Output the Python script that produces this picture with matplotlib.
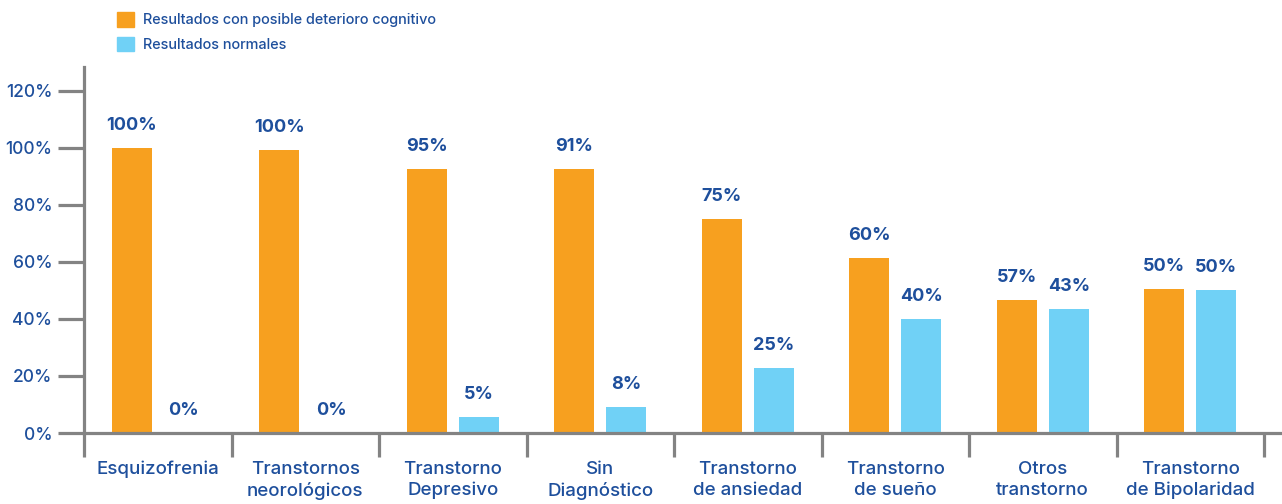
import matplotlib
matplotlib.use("Agg")
import matplotlib.pyplot as plt
from matplotlib.patches import Patch
import numpy as np

categories = ["Esquizofrenia", "Transtornos\nneorológicos", "Transtorno\nDepresivo",
              "Sin\nDiagnóstico", "Transtorno\nde ansiedad", "Transtorno\nde sueño",
              "Otros\ntranstorno", "Transtorno\nde Bipolaridad"]
deterioro = [100, 99.3, 92.6, 92.6, 75.1, 61.4, 46.7, 50.5]
normales = [0, 0, 5.6, 9.1, 22.8, 40.0, 43.5, 50.2]
deterioro_labels = ["100%", "100%", "95%", "91%", "75%", "60%", "57%", "50%"]
normales_labels = ["0%", "0%", "5%", "8%", "25%", "40%", "43%", "50%"]
yticks = [0, 20, 40, 60, 80, 100, 120]
ytick_labels = ["0%", "20%", "40%", "60%", "80%", "100%", "120%"]
series_names = ["Resultados con posible deterioro cognitivo", "Resultados normales"]

ORANGE = "#F7A01F"
BLUE = "#70D1F6"
TXT = "#1E4F9C"
GRAY = "#838383"

plt.rcParams['font.family'] = ['Inter', 'DejaVu Sans']

W, H = 1282, 504
fig = plt.figure(figsize=(W / 100, H / 100), dpi=100)
ax = fig.add_axes([84 / W, (H - 433) / H, (1280 - 84) / W, (433 - 67) / H])

x = np.arange(len(categories)) + 0.5
bw = 40 / 147.5
off = 26 / 147.5
b1 = ax.bar(x - off, deterioro, bw, color=ORANGE)
b2 = ax.bar(x + off, normales, bw, color=BLUE)

for bars, labs in ((b1, deterioro_labels), (b2, normales_labels)):
    for r, lab in zip(bars, labs):
        ax.annotate(lab, (r.get_x() + r.get_width() / 2, r.get_height()),
                    xytext=(0, 16), textcoords="offset points",
                    ha="center", va="center", fontsize=13, fontweight="bold", color=TXT)

ax.set_xlim(0, 1196 / 147.5)
ax.set_ylim(0, 128.4)

for s in ["top", "right"]:
    ax.spines[s].set_visible(False)
for s in ["left", "bottom"]:
    ax.spines[s].set_color(GRAY)
    ax.spines[s].set_linewidth(2.3)

ax.set_yticks(yticks)
ax.set_yticklabels(ytick_labels)
ax.tick_params(axis="y", length=18.7, width=2.3, color=GRAY, labelsize=12.5,
               labelcolor=TXT, pad=4)

ax.set_xticks(np.arange(len(categories) + 1))
ax.set_xticklabels([""] * (len(categories) + 1))
ax.tick_params(axis="x", which="major", length=17, width=2.3, color=GRAY)
ax.set_xticks(x, minor=True)
ax.set_xticklabels(categories, minor=True)
ax.tick_params(axis="x", which="minor", length=0, labelsize=13.5, labelcolor=TXT, pad=20)
for t in ax.get_xticklabels(minor=True):
    t.set_linespacing(1.3)
    t.set_fontweight("medium")
for t in ax.get_yticklabels():
    t.set_fontweight("medium")

handles = [Patch(color=ORANGE), Patch(color=BLUE)]
fig.legend(handles, series_names, loc="upper left",
           bbox_to_anchor=(117 / W, 1 - 12 / H), frameon=False,
           handlelength=1.2, handleheight=1.2, handletextpad=0.6,
           labelspacing=0.65, borderpad=0, borderaxespad=0, labelcolor=TXT,
           prop={"weight": "medium", "size": 10.4})

fig.savefig("out.png", dpi=100)
